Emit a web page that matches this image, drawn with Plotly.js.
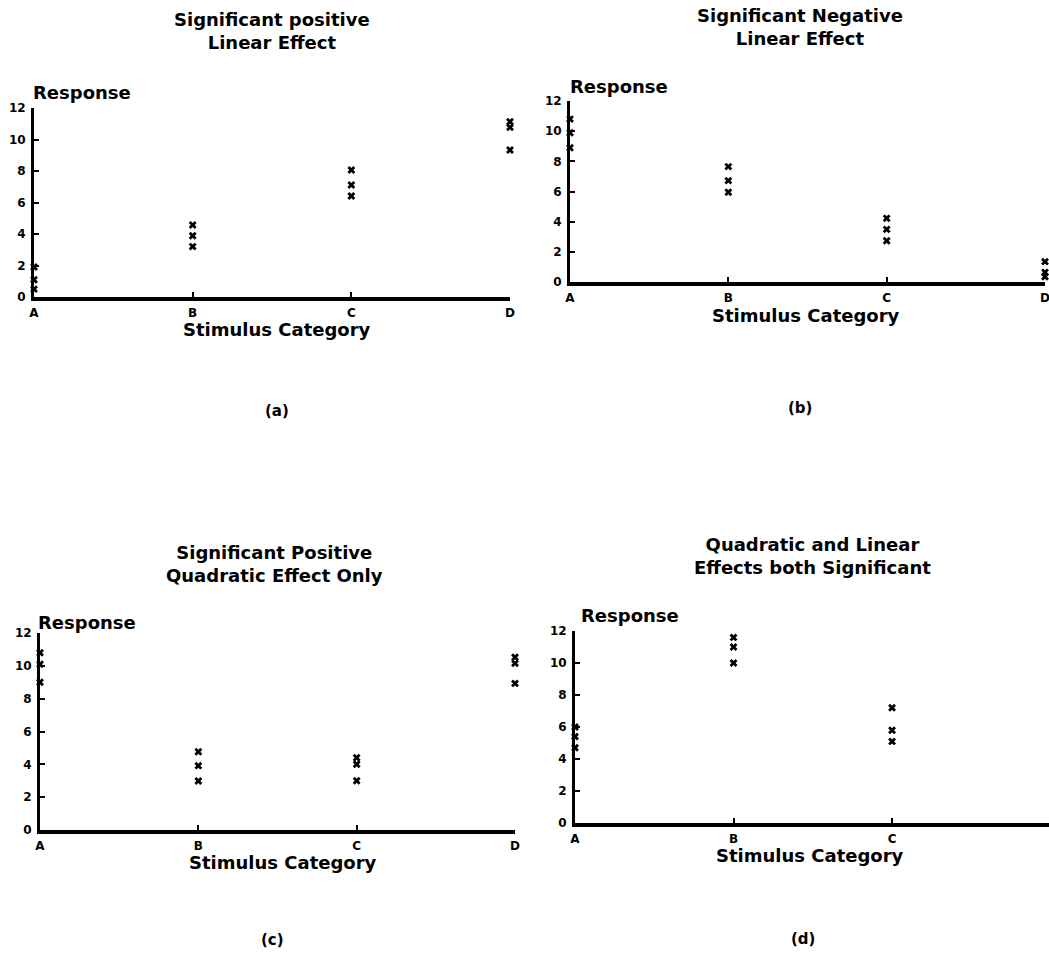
<!DOCTYPE html>
<html>
<head>
<meta charset="utf-8">
<script src="https://cdn.plot.ly/plotly-3.0.1.min.js"></script>
<style>html,body{margin:0;padding:0;background:#fff;}#chart{width:1049px;height:954px;}</style>
</head>
<body>
<div id="chart"></div>
<script>
// ---- data ----
const categories = ['A', 'B', 'C', 'D'];
const yTickValues = [0, 2, 4, 6, 8, 10, 12];
const xAxisTitle = 'Stimulus Category';
const yAxisTitle = 'Response';

// responses per category (three observations each), A..D
const positiveLinear = [[1.9, 1.1, 0.5], [4.57, 3.89, 3.2], [8.06, 7.11, 6.41], [11.13, 10.77, 9.33]];
const negativeLinear = [[10.8, 9.9, 8.9], [7.65, 6.72, 5.95], [4.22, 3.49, 2.74], [1.35, 0.64, 0.35]];
const quadraticOnly = [[10.8, 10.1, 9.0], [4.77, 3.92, 2.98], [4.4, 4.0, 3.0], [10.52, 10.15, 8.93]];
const quadAndLinear = [[6.0, 5.4, 4.7], [11.6, 11.0, 10.0], [7.2, 5.8, 5.1], [2.0, 1.4, 0.9]];

const panelTitles = [
  'Significant positive<br>Linear Effect',
  'Significant Negative<br>Linear Effect',
  'Significant Positive<br>Quadratic Effect Only',
  'Quadratic and Linear<br>Effects both Significant'
];
const panelLabels = ['(a)', '(b)', '(c)', '(d)'];
const panelData = [positiveLinear, negativeLinear, quadraticOnly, quadAndLinear];

// ---- layout geometry (pixels) ----
const W = 1049, H = 954;
const FONT = 'DejaVu Sans, Liberation Sans, Arial, sans-serif';
const panels = [
  {x0: 34, x1: 510, yb: 297, yt: 108, xmax: 3, title: [272, 31], resp: [31, 93], xt: [277, 330], lab: [277, 411]},
  {x0: 570, x1: 1045, yb: 282, yt: 101, xmax: 3, title: [800, 27], resp: [568, 87], xt: [806, 315], lab: [800, 408]},
  {x0: 40, x1: 515, yb: 830, yt: 633, xmax: 3, title: [274, 564], resp: [36, 622], xt: [283, 862], lab: [272, 940]},
  {x0: 575, x1: 1049, yb: 823, yt: 631, xmax: 2.99, title: [812, 556], resp: [579, 615], xt: [810, 855], lab: [803, 939]}
];

const traces = [];
const layout = {
  width: W, height: H,
  margin: {l: 0, r: 0, t: 0, b: 0},
  paper_bgcolor: '#fff', plot_bgcolor: '#fff',
  showlegend: false,
  font: {family: FONT, color: '#000'},
  annotations: []
};

panels.forEach((p, i) => {
  const n = i + 1;
  const xs = [], ys = [];
  panelData[i].forEach((vals, ci) => {
    vals.forEach(v => { xs.push(categories[ci]); ys.push(v); });
  });
  traces.push({
    type: 'scatter', mode: 'markers',
    x: xs, y: ys,
    xaxis: 'x' + (n === 1 ? '' : n), yaxis: 'y' + (n === 1 ? '' : n),
    marker: {symbol: 'x', size: 7, color: '#000', line: {width: 0}},
    cliponaxis: false, hoverinfo: 'x+y'
  });
  const xa = {
    domain: [p.x0 / W, Math.min(1, p.x1 / W)],
    type: 'category', categoryorder: 'array', categoryarray: categories,
    range: [0, p.xmax], anchor: 'y' + (n === 1 ? '' : n),
    showline: true, linewidth: 3.5, linecolor: '#000', mirror: false,
    showgrid: false, zeroline: false,
    ticks: 'inside', ticklen: 5, tickwidth: 2, tickcolor: '#000',
    tickfont: {family: FONT, size: 12, weight: 'bold', color: '#000'},
    ticklabelstandoff: 2, fixedrange: true
  };
  const ya = {
    domain: [1 - p.yb / H, 1 - p.yt / H],
    range: [0, 12], anchor: 'x' + (n === 1 ? '' : n),
    tickmode: 'array', tickvals: yTickValues, ticktext: yTickValues.map(String),
    showline: true, linewidth: 3, linecolor: '#000',
    showgrid: false, zeroline: false,
    ticks: 'inside', ticklen: 5, tickwidth: 2, tickcolor: '#000',
    tickfont: {family: FONT, size: 12, weight: 'bold', color: '#000'},
    ticklabelstandoff: 3, fixedrange: true
  };
  layout['xaxis' + (n === 1 ? '' : n)] = xa;
  layout['yaxis' + (n === 1 ? '' : n)] = ya;

  const ann = (text, px, py, size, xanchor) => ({
    text: text, xref: 'paper', yref: 'paper',
    x: px / W, y: 1 - py / H, xanchor: xanchor, yanchor: 'middle',
    showarrow: false, align: 'center',
    font: {family: FONT, size: size, weight: 'bold', color: '#000'}
  });
  layout.annotations.push(ann(panelTitles[i], p.title[0], p.title[1], 18, 'center'));
  layout.annotations.push(ann(yAxisTitle, p.resp[0], p.resp[1], 18, 'left'));
  layout.annotations.push(ann(xAxisTitle, p.xt[0], p.xt[1], 18, 'center'));
  layout.annotations.push(ann(panelLabels[i], p.lab[0], p.lab[1], 15, 'center'));
});

Plotly.newPlot('chart', traces, layout, {displayModeBar: false, staticPlot: true});
</script>
</body>
</html>
